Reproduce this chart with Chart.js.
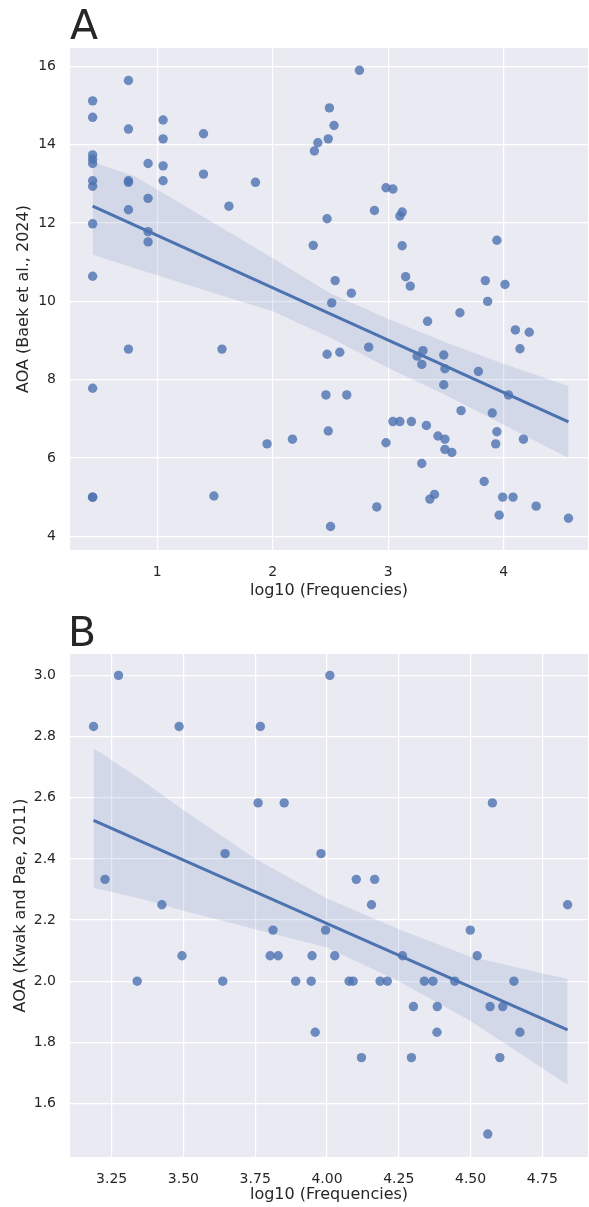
<!DOCTYPE html>
<html>
<head>
<meta charset="utf-8">
<script src="https://cdn.jsdelivr.net/npm/chart.js@4/dist/chart.umd.min.js"></script>
<style>
  body { margin: 0; background: #fff; width: 589px; height: 1207px; position: relative; overflow: hidden; }
  canvas { position: absolute; left: 0; }
  #chartA { top: 0; }
  #chartB { top: 603px; }
  .letra { position: absolute; font-family: 'DejaVu Sans'; font-size: 41px; line-height: 1; color: #262626; }
</style>
</head>
<body>
<canvas id="chartA" width="589" height="603"></canvas>
<canvas id="chartB" width="589" height="604"></canvas>
<div class="letra" style="left:70px; top:5px;">A</div>
<div class="letra" style="left:68px; top:612px;">B</div>
<script>
// painel A: Baek et al., 2024
const aFreq = [0.44, 0.44, 0.44, 0.44, 0.44, 0.44, 0.44, 0.44, 0.44, 0.44, 0.44, 0.44,
  0.75, 0.75, 0.75, 0.75, 0.75, 0.75,
  0.92, 0.92, 0.92, 0.92,
  1.05, 1.05, 1.05, 1.05,
  1.40, 1.40, 1.85, 1.62, 1.56, 1.49, 1.95, 2.17,
  2.36, 2.39, 2.48, 2.49, 2.53, 2.47, 2.35,
  2.75, 2.98, 3.04, 2.88, 3.12, 3.10, 3.12, 3.94,
  2.54, 2.68, 3.15, 3.19, 3.84, 4.01,
  2.51, 2.47, 2.46, 2.48, 2.50,
  3.86, 3.62, 3.34, 4.10, 4.22, 4.14, 2.58, 2.83, 3.30, 3.25, 3.29, 3.48, 3.49, 3.78, 3.48, 4.04,
  2.64, 3.63, 3.90, 3.04, 3.10, 3.20, 3.33, 3.94, 2.98, 3.93, 4.17, 3.43, 3.49, 3.49, 3.55, 3.29,
  3.83, 3.40, 3.36, 3.99, 4.08, 2.90, 4.28, 3.96, 4.56];
const aAoa = [15.12, 14.70, 13.74, 13.63, 13.52, 13.08, 12.94, 11.98, 10.64, 7.78, 5.00, 5.00,
  15.64, 14.40, 13.08, 13.04, 12.34, 8.78,
  13.52, 12.63, 11.78, 11.52,
  14.63, 14.15, 13.46, 13.08,
  14.28, 13.25, 13.04, 12.43, 8.78, 5.03, 6.36, 6.48,
  13.84, 14.05, 14.15, 14.94, 14.49, 12.11, 11.43,
  15.90, 12.90, 12.87, 12.32, 12.28, 12.18, 11.42, 11.56,
  10.53, 10.21, 10.63, 10.39, 10.53, 10.43,
  9.96, 8.65, 7.61, 6.69, 4.25,
  10.00, 9.71, 9.49, 9.27, 9.21, 8.79, 8.70, 8.83, 8.74, 8.60, 8.39, 8.63, 8.28, 8.21, 7.87, 7.61,
  7.61, 7.21, 7.15, 6.93, 6.93, 6.93, 6.83, 6.67, 6.39, 6.36, 6.48, 6.56, 6.48, 6.22, 6.14, 5.86,
  5.40, 5.07, 4.95, 5.00, 5.00, 4.75, 4.77, 4.54, 4.46];
const aRetaX = [0.44, 4.56];
const aRetaY = [12.43, 6.92];
const aFaixaX = [0.44, 0.8, 1.5, 2.0, 2.5, 3.0, 3.5, 4.0, 4.56];
const aFaixaSup = [13.55, 13.2, 11.98, 11.1, 10.2, 9.55, 8.95, 8.4, 7.84];
const aFaixaInf = [11.19, 10.85, 10.2, 9.75, 9.07, 8.3, 7.6, 6.85, 6.0];
const aTicksX = [1, 2, 3, 4];
const aTicksY = [4, 6, 8, 10, 12, 14, 16];

// painel B: Kwak and Pae, 2011
const bFreq = [3.187, 3.274, 3.485, 3.768, 3.760, 3.851, 3.645, 3.979, 3.227, 3.425,
  4.010, 4.576, 4.102, 4.166, 4.155, 4.838, 3.812, 3.995, 3.495, 3.802,
  3.830, 3.948, 3.339, 3.637, 3.891, 3.945, 3.959, 4.499, 4.027, 4.263,
  4.523, 4.077, 4.091, 4.185, 4.210, 4.339, 4.369, 4.445, 4.651, 4.301,
  4.384, 4.568, 4.612, 4.383, 4.672, 4.120, 4.294, 4.602, 4.560];
const bAoa = [2.833, 3.0, 2.833, 2.833, 2.583, 2.583, 2.417, 2.417, 2.333, 2.25,
  3.0, 2.583, 2.333, 2.333, 2.25, 2.25, 2.167, 2.167, 2.083, 2.083,
  2.083, 2.083, 2.0, 2.0, 2.0, 2.0, 1.833, 2.167, 2.083, 2.083,
  2.083, 2.0, 2.0, 2.0, 2.0, 2.0, 2.0, 2.0, 2.0, 1.917,
  1.917, 1.917, 1.917, 1.833, 1.833, 1.75, 1.75, 1.75, 1.5];
const bRetaX = [3.187, 4.838];
const bRetaY = [2.526, 1.841];
const bFaixaX = [3.187, 3.35, 3.5, 3.75, 4.0, 4.25, 4.5, 4.838];
const bFaixaSup = [2.762, 2.66, 2.56, 2.40, 2.27, 2.17, 2.08, 2.007];
const bFaixaInf = [2.305, 2.27, 2.23, 2.17, 2.11, 2.0, 1.87, 1.661];
const bTicksX = [3.25, 3.5, 3.75, 4.0, 4.25, 4.5, 4.75];
const bTicksY = [1.6, 1.8, 2.0, 2.2, 2.4, 2.6, 2.8, 3.0];

const azul = 'rgb(76,114,176)';
const fonteTick = { family: 'DejaVu Sans', size: 14 };
const fonteTitulo = { family: 'DejaVu Sans', size: 16 };
const cinza = '#262626';

const fundo = {
  id: 'fundo',
  beforeDraw(chart) {
    const { ctx, chartArea: a } = chart;
    ctx.save();
    ctx.fillStyle = '#EAEAF2';
    ctx.fillRect(a.left, a.top, a.right - a.left, a.bottom - a.top);
    ctx.restore();
  }
};

const pares = (xs, ys) => xs.map((x, i) => ({ x: x, y: ys[i] }));

function montarPainel(id, p) {
  new Chart(document.getElementById(id), {
    type: 'scatter',
    data: {
      datasets: [
        {
          data: pares(p.freq, p.aoa),
          backgroundColor: 'rgba(76,114,176,0.8)',
          borderWidth: 0,
          pointRadius: 4.7,
          order: 3
        },
        {
          type: 'line',
          data: pares(p.faixaX, p.faixaSup),
          borderWidth: 0,
          pointRadius: 0,
          fill: '+1',
          backgroundColor: 'rgba(76,114,176,0.15)',
          order: 2
        },
        {
          type: 'line',
          data: pares(p.faixaX, p.faixaInf),
          borderWidth: 0,
          pointRadius: 0,
          fill: false,
          order: 2
        },
        {
          type: 'line',
          data: pares(p.retaX, p.retaY),
          borderColor: azul,
          borderWidth: 3,
          pointRadius: 0,
          fill: false,
          order: 1
        }
      ]
    },
    options: {
      responsive: false,
      animation: false,
      layout: { autoPadding: false, padding: { top: p.topo, right: 1, left: 0, bottom: 0 } },
      plugins: { legend: { display: false }, tooltip: { enabled: false } },
      scales: {
        x: {
          type: 'linear',
          min: p.xMin,
          max: p.xMax,
          afterBuildTicks: s => { s.ticks = p.ticksX.map(v => ({ value: v })); },
          afterFit: s => { s.height = p.alturaX; },
          grid: { color: '#ffffff', lineWidth: 1.2, drawTicks: false },
          border: { display: false },
          ticks: { padding: 13.5, color: cinza, font: fonteTick, callback: v => v.toFixed(p.casasX) },
          title: { display: true, text: 'log10 (Frequencies)', color: cinza, font: fonteTitulo, padding: { top: 2.5, bottom: 2.5 } }
        },
        y: {
          type: 'linear',
          min: p.yMin,
          max: p.yMax,
          afterBuildTicks: s => { s.ticks = p.ticksY.map(v => ({ value: v })); },
          afterFit: s => { s.width = 70; },
          grid: { color: '#ffffff', lineWidth: 1.2, drawTicks: false },
          border: { display: false },
          ticks: { padding: 14, color: cinza, font: fonteTick, callback: v => v.toFixed(p.casasY) },
          title: { display: true, text: p.tituloY, color: cinza, font: fonteTitulo, padding: { top: p.padTitulo, bottom: 0 } }
        }
      }
    },
    plugins: [fundo]
  });
}

montarPainel('chartA', {
  freq: aFreq, aoa: aAoa, retaX: aRetaX, retaY: aRetaY,
  faixaX: aFaixaX, faixaSup: aFaixaSup, faixaInf: aFaixaInf,
  ticksX: aTicksX, ticksY: aTicksY, casasX: 0, casasY: 0,
  xMin: 0.244, xMax: 4.729, yMin: 3.65, yMax: 16.47,
  topo: 48, alturaX: 53, padTitulo: 14, tituloY: 'AOA (Baek et al., 2024)'
});

montarPainel('chartB', {
  freq: bFreq, aoa: bAoa, retaX: bRetaX, retaY: bRetaY,
  faixaX: bFaixaX, faixaSup: bFaixaSup, faixaInf: bFaixaInf,
  ticksX: bTicksX, ticksY: bTicksY, casasX: 2, casasY: 1,
  xMin: 3.105, xMax: 4.909, yMin: 1.425, yMax: 3.070,
  topo: 51, alturaX: 50, padTitulo: 11, tituloY: 'AOA (Kwak and Pae, 2011)'
});
</script>
</body>
</html>
